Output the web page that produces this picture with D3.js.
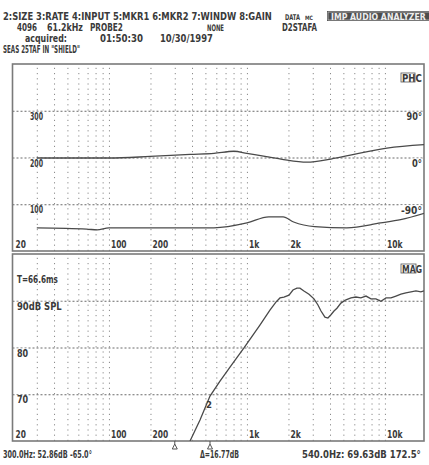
<!DOCTYPE html>
<html><head><meta charset="utf-8">
<script src="https://cdn.jsdelivr.net/npm/d3@7"></script>
<style>
html,body{margin:0;padding:0;background:#fff;}
svg text{font-family:"DejaVu Sans","Liberation Sans",sans-serif;font-weight:bold;fill:#3a3a3a;}
</style></head>
<body><svg id="c" width="429" height="465"></svg>
<script>
// ---- data ----
const gridFreqs = [30,40,50,60,70,80,90,100,200,300,400,500,600,700,800,900,1000,2000,3000,4000,5000,6000,7000,8000,9000,10000];
const freqLabels = [{f:20,t:"20"},{f:100,t:"100"},{f:200,t:"200"},{f:1000,t:"1k"},{f:2000,t:"2k"},{f:10000,t:"10k"}];
const upperLeftTicks = [300,200,100];
const upperRightTicks = [{v:90,t:"90°"},{v:0,t:"0°"},{v:-90,t:"-90°"}];
const lowerTicks = [{v:90,t:"90dB SPL"},{v:80,t:"80"},{v:70,t:"70"}];

const phaseFreq = [30,100,198,387,577,805,1000,1352,1766,2722,4064,5967,10350,20000];
const phaseDeg  = [-1,-1,2,6,8,12,8,2,-3,-9,-3,6,18,25];

const magFreq = [30,69,82,100,577,1000,1440,1830,2180,3100,5300,9300,13000,20000];
const magVal  = [49.5,47,45,49.5,49.5,60,73,73,62,52,49.5,60,67,82];

const splFreq = [387,457,540,638,754,952,1242,1468,1622,1736,1854,2018,2156,2303,2423,2589,2817,3062,3272,3442,3676,3864,4064,4276,4492,4798,5221,5676,6166,6700,7294,7926,8610,9354,10186,11068,12024,13062,14192,15454,16790,18240,19188];
const splDb   = [60,64.5,69.6,72.8,75.8,79.9,84.8,88.0,89.7,90.6,90.8,91.2,92.3,92.7,92.7,92.1,91.4,90.4,89.1,87.8,86.5,86.3,87.0,87.8,88.4,89.5,90.2,90.6,90.8,90.6,91.0,90.4,90.4,89.9,90.6,90.6,91.0,91.4,91.7,91.9,92.1,91.9,92.1];

const markerFreqs = [300,540];

// ---- drawing ----
const svg = d3.select("#c");
const X0 = 12.5, X1 = 424;
const x = d3.scaleLog().domain([20,19200]).range([X0,X1]);
const up = {top:64, bottom:251};
const lo = {top:254, bottom:441};
const yPhase = d3.scaleLinear().domain([-180,180]).range([up.bottom,up.top]);
const yMag = d3.scaleLinear().domain([0,400]).range([up.bottom,up.top]);
const ySpl = d3.scaleLinear().domain([60,100]).range([lo.bottom,lo.top]);

// text squeezed horizontally to a target width (condensed instrument font look)
function txt(s, xx, yy, len, size, opts={}) {
  const t = svg.append("text").attr("x",0).attr("y",0).attr("font-size",size||10).text(s);
  if (opts.fill) t.style("fill",opts.fill);
  let sx = 1;
  if (len) { const w = t.node().getComputedTextLength(); if (w>0) sx = len/w; }
  t.attr("transform",`translate(${xx},${yy}) scale(${sx},1)`);
  return t;
}

// header
txt("2:SIZE 3:RATE 4:INPUT 5:MKR1 6:MKR2 7:WINDW 8:GAIN",3,20,269,10.5);
txt("DATA",285,20,15,8);
txt("MC",305,20,8,6);
svg.append("rect").attr("x",327).attr("y",11).attr("width",104).attr("height",10).attr("fill","#4d4d4d");
svg.append("rect").attr("x",328).attr("y",12).attr("width",102).attr("height",8).attr("fill","none").attr("stroke","#ddd").attr("stroke-width",0.6);
txt("IMP AUDIO ANALYZER",331,19.5,95,9,{fill:"#eee"});
txt("4096",17,31,20,10.5);
txt("61.2kHz",47,31,36,10.5);
txt("PROBE2",90,31,33,10.5);
txt("NONE",207,31,17,9);
txt("D2STAFA",282,31,35,10.5);
txt("acquired:",25,42,42,10.5);
txt("01:50:30",100,42,43,10.5);
txt("10/30/1997",160,42,53,10.5);
txt('SEAS 25TAF IN "SHIELD"',3,53,77,10);

// panels
function panel(p, clipId) {
  const h = p.bottom - p.top;
  svg.append("rect").attr("x",X0).attr("y",p.top).attr("width",X1-X0).attr("height",h)
    .attr("fill","#fff");
  const gAx = svg.append("g").attr("transform",`translate(0,${p.bottom})`)
    .call(d3.axisBottom(x).tickValues(gridFreqs).tickSize(-h).tickFormat(""));
  gAx.select(".domain").remove();
  gAx.selectAll(".tick line").attr("stroke","#8a8a8a").attr("stroke-width",1).attr("stroke-dasharray","1.2,4");
  svg.append("clipPath").attr("id",clipId).append("rect")
    .attr("x",X0).attr("y",p.top).attr("width",X1-X0).attr("height",h);
}
panel(up,"cu");
panel(lo,"cl");

// horizontal grids
function hgrid(scale, vals) {
  const g = svg.append("g").attr("transform",`translate(${X0},0)`)
    .call(d3.axisLeft(scale).tickValues(vals).tickSize(-(X1-X0)).tickFormat(""));
  g.select(".domain").remove();
  g.selectAll(".tick line").attr("stroke","#6a6a6a").attr("stroke-width",1).attr("stroke-dasharray","2,2");
}
hgrid(yMag, upperLeftTicks);
hgrid(ySpl, lowerTicks.map(d=>d.v));

// frame borders
[up,lo].forEach(p=>{
  svg.append("rect").attr("x",X0).attr("y",p.top).attr("width",X1-X0).attr("height",p.bottom-p.top)
    .attr("fill","none").attr("stroke","#7a7a7a").attr("stroke-width",1.6);
});

// frequency labels with white backgrounds
function flabels(p) {
  freqLabels.forEach(d=>{
    const xx = (d.f===20? x(d.f)+2.5 : x(d.f)+1.5);
    const w = d.t.length*5.2+1;
    svg.append("rect").attr("x",xx).attr("y",p.bottom-12).attr("width",w).attr("height",10).attr("fill","#fff");
    txt(d.t,xx+0.5,p.bottom-3.5,d.t.length*5.2,10.5);
  });
}
flabels(up); flabels(lo);

// upper axis labels
upperLeftTicks.forEach(v=>{
  svg.append("rect").attr("x",29).attr("y",yMag(v)+1).attr("width",15).attr("height",8).attr("fill","#fff");
  txt(String(v),30,yMag(v)+9,13,10.5);
});
upperRightTicks.forEach(d=>{
  const w = d.t.length*5.5;
  svg.append("rect").attr("x",424-w-2).attr("y",yPhase(d.v)+1).attr("width",w).attr("height",8).attr("fill","#fff");
  txt(d.t,424-w-1,yPhase(d.v)+9.5,w-1,10.5);
});
txt("PHC",402,82,20,10);
svg.append("rect").attr("x",401).attr("y",73).attr("width",14).attr("height",9).attr("fill","none").attr("stroke","#555").attr("stroke-width",0.8);

// lower axis labels
txt("T=66.6ms",17,283,41,10.5);
lowerTicks.forEach(d=>{
  const w = d.t.length*5.6;
  svg.append("rect").attr("x",16).attr("y",ySpl(d.v)+1).attr("width",w+1).attr("height",8).attr("fill","#fff");
  txt(d.t,17,ySpl(d.v)+9,w,10.5);
});
txt("MAG",402,273,20,10);
svg.append("rect").attr("x",401).attr("y",264).attr("width",15).attr("height",9).attr("fill","none").attr("stroke","#555").attr("stroke-width",0.8);

// traces
const line = (ys)=>d3.line().x(d=>x(d[0])).y(d=>ys(d[1])).curve(d3.curveMonotoneX);
svg.append("path").datum(phaseFreq.map((f,i)=>[f,phaseDeg[i]]))
  .attr("d",line(yPhase)).attr("fill","none").attr("stroke","#4a4a4a").attr("stroke-width",1.3).attr("clip-path","url(#cu)");
svg.append("path").datum(magFreq.map((f,i)=>[f,magVal[i]]))
  .attr("d",line(yMag)).attr("fill","none").attr("stroke","#4a4a4a").attr("stroke-width",1.3).attr("clip-path","url(#cu)");
svg.append("path").datum(splFreq.map((f,i)=>[f,splDb[i]]))
  .attr("d",d3.line().x(d=>x(d[0])).y(d=>ySpl(d[1]))).attr("fill","none").attr("stroke","#4a4a4a").attr("stroke-width",1.3).attr("clip-path","url(#cl)");

// marker 2 label on trace
txt("2",x(540)-4,ySpl(69.6)+12,6,9);
// markers under lower panel
markerFreqs.forEach(f=>{
  const mx = x(f);
  svg.append("line").attr("x1",mx).attr("x2",mx).attr("y1",lo.bottom).attr("y2",lo.bottom+3).attr("stroke","#555");
  svg.append("path").attr("d",`M${mx-2.5},${lo.bottom+8}L${mx},${lo.bottom+3}L${mx+2.5},${lo.bottom+8}Z`)
    .attr("fill","none").attr("stroke","#555").attr("stroke-width",1);
});

// bottom readouts
txt("300.0Hz: 52.86dB  -65.0°",3,458,89,10.5);
txt("Δ=16.77dB",200,458,39,10.5);
txt("540.0Hz: 69.63dB 172.5°",302,458,119,10.5);
</script></body></html>
